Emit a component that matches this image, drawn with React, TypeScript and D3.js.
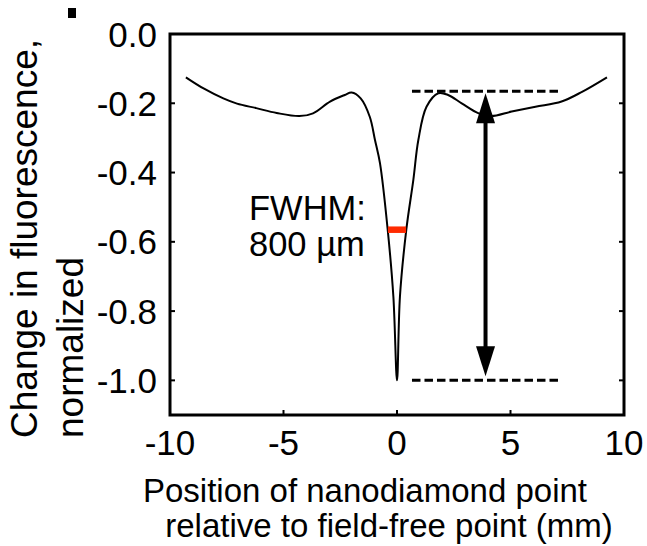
import React from "react";
import * as d3 from "d3";

// Measured fluorescence change along the scan (position in mm)
const positions = [
  -9.3, -8.5, -7.65, -7.05, -6.2, -5.3, -4.3, -3.7, -2.95, -2.3, -2.0, -1.6, -1.2,
  -0.97, -0.75, -0.41, -0.16, 0, 0.13, 0.41, 0.72, 0.94, 1.3, 1.82, 2.25, 2.85,
  3.6, 4.15, 5.05, 6.1, 7.25, 8.15, 9.25,
];
const fluorescence = [
  -0.125, -0.158, -0.186, -0.201, -0.214, -0.228, -0.237, -0.229, -0.195, -0.176,
  -0.169, -0.186, -0.239, -0.306, -0.373, -0.565, -0.758, -1.0, -0.758, -0.565,
  -0.421, -0.306, -0.21, -0.171, -0.176, -0.2, -0.229, -0.237, -0.224, -0.21,
  -0.195, -0.167, -0.125,
];

const xTicks = [-10, -5, 0, 5, 10];
const yTicks = [0, -0.2, -0.4, -0.6, -0.8, -1.0];

// Full width at half maximum (mm) and the level it is measured at
const fwhmMm = 0.8;
const halfMaxLevel = -0.565;

// Contrast bracket: reference levels, extent and arrow position
const contrastTop = -0.165;
const contrastBottom = -1.0;
const bracketRange = [0.66, 7.18];
const arrowX = 3.9;

const FONT = "'Liberation Sans', Arial, Helvetica, sans-serif";

export default function App() {
  const width = 647;
  const height = 546;
  const x = d3.scaleLinear().domain([-10, 10]).range([170, 624]);
  const y = d3.scaleLinear().domain([-1.1, 0]).range([415, 34]);

  const line = d3
    .line<number>()
    .x((_, i) => x(positions[i]))
    .y((d) => y(d))
    .curve(d3.curveCatmullRom.alpha(0.5));

  const tickLen = 5;
  const headLen = 30;
  const headHalf = 9.5;
  const ax = x(arrowX);
  const aTop = y(contrastTop) + 2;
  const aBot = y(contrastBottom) - 4;

  return (
    <svg
      width={width}
      height={height}
      style={{ position: "absolute", left: 0, top: 0, background: "#fff" }}
      fontFamily={FONT}
    >
      <rect x={68} y={8} width={8} height={10} fill="#000" />

      {/* curve */}
      <path d={line(fluorescence) || ""} fill="none" stroke="#000" strokeWidth={2} />

      {/* FWHM marker */}
      <line
        x1={x(-fwhmMm / 2)}
        x2={x(fwhmMm / 2)}
        y1={y(halfMaxLevel)}
        y2={y(halfMaxLevel)}
        stroke="#ff2a00"
        strokeWidth={6.5}
      />

      {/* dashed reference levels */}
      {[contrastTop, contrastBottom].map((v) => (
        <line
          key={v}
          x1={x(bracketRange[0])}
          x2={x(bracketRange[1])}
          y1={y(v)}
          y2={y(v)}
          stroke="#000"
          strokeWidth={3}
          strokeDasharray="8.5 4"
        />
      ))}

      {/* double-headed arrow */}
      <line x1={ax} x2={ax} y1={aTop + headLen - 2} y2={aBot - headLen + 2} stroke="#000" strokeWidth={4} />
      <path
        d={`M${ax},${aTop} L${ax - headHalf},${aTop + headLen} L${ax + headHalf},${aTop + headLen} Z`}
        fill="#000"
      />
      <path
        d={`M${ax},${aBot} L${ax - headHalf},${aBot - headLen} L${ax + headHalf},${aBot - headLen} Z`}
        fill="#000"
      />

      {/* frame */}
      <rect
        x={x(-10)}
        y={y(0)}
        width={x(10) - x(-10)}
        height={y(-1.1) - y(0)}
        fill="none"
        stroke="#000"
        strokeWidth={3}
      />

      {/* y ticks */}
      {yTicks.map((t) => (
        <g key={t}>
          <line x1={x(-10)} x2={x(-10) + tickLen} y1={y(t)} y2={y(t)} stroke="#000" strokeWidth={2} />
          <line x1={x(10)} x2={x(10) - tickLen} y1={y(t)} y2={y(t)} stroke="#000" strokeWidth={2} />
          <text x={157} y={y(t)} dy="0.36em" textAnchor="end" fontSize={35} fill="#000">
            {d3.format(".1f")(t).replace("−", "-")}
          </text>
        </g>
      ))}

      {/* x ticks */}
      {xTicks.map((t) => (
        <g key={t}>
          <line x1={x(t)} x2={x(t)} y1={y(-1.1)} y2={y(-1.1) - tickLen} stroke="#000" strokeWidth={2} />
          <text x={x(t)} y={455} textAnchor="middle" fontSize={35} fill="#000">
            {String(t)}
          </text>
        </g>
      ))}

      {/* annotation */}
      <text x={249} y={220} fontSize={34.5} fill="#000">FWHM:</text>
      <text x={249} y={256} fontSize={34.5} fill="#000">800 µm</text>

      {/* axis titles */}
      <text x={365} y={502} textAnchor="middle" fontSize={33} fill="#000">Position of nanodiamond point</text>
      <text x={389} y={537} textAnchor="middle" fontSize={33} fill="#000">relative to field-free point (mm)</text>
      <g transform="translate(37,438) rotate(-90)">
        <text x={0} y={0} fontSize={37} fill="#000">Change in fluorescence,</text>
        <text x={0} y={46} fontSize={37} fill="#000">normalized</text>
      </g>
    </svg>
  );
}
